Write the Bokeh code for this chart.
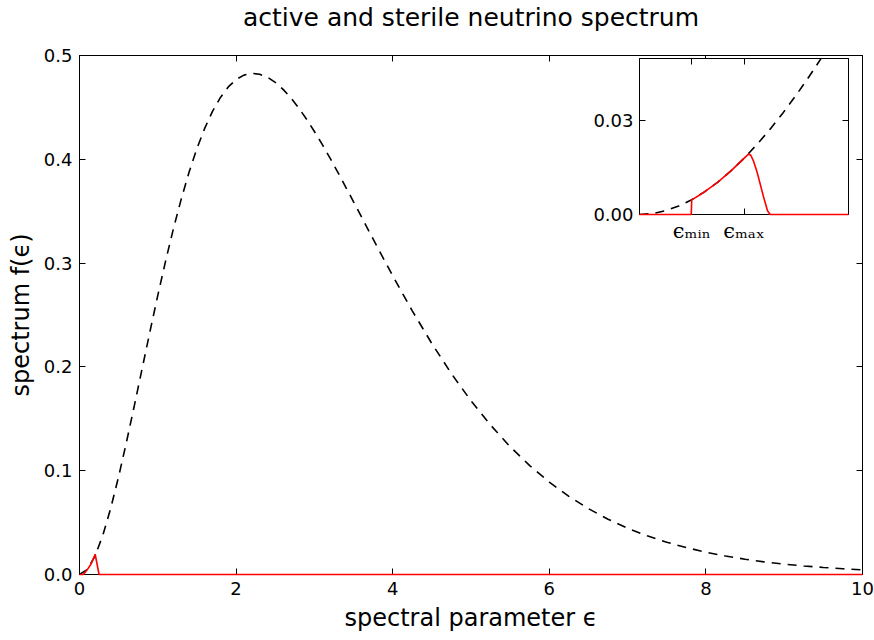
from bokeh.plotting import figure
from bokeh.models import (LinearAxis, FixedTicker, Range1d, PrintfTickFormatter,
                          CustomLabelingPolicy)
from bokeh.embed import file_html
from bokeh.resources import INLINE

# active (thermal) spectrum f(eps)
eps_active = [0.0, 0.1, 0.2, 0.3, 0.4, 0.5, 0.6, 0.7, 0.8, 0.9, 1.0, 1.1, 1.2, 1.3,
              1.4, 1.5, 1.6, 1.7, 1.8, 1.9, 2.0, 2.1, 2.2, 2.3, 2.4, 2.5, 2.6, 2.7,
              2.8, 2.9, 3.0, 3.1, 3.2, 3.3, 3.4, 3.5, 3.6, 3.7, 3.8, 3.9, 4.0,
              4.25, 4.5, 4.75, 5.0, 5.25, 5.5, 5.75, 6.0, 6.25, 6.5, 6.75, 7.0,
              7.25, 7.5, 7.75, 8.0, 8.25, 8.5, 8.75, 9.0, 9.25, 9.5, 9.75, 10.0]
f_active = [0.0, 0.0048, 0.0180, 0.0383, 0.0642, 0.0944, 0.1276, 0.1626, 0.1984,
            0.2341, 0.2689, 0.3022, 0.3333, 0.3619, 0.3877, 0.4105, 0.4300, 0.4464,
            0.4596, 0.4697, 0.4768, 0.4811, 0.4828, 0.4820, 0.4791, 0.4741, 0.4674,
            0.4591, 0.4494, 0.4386, 0.4268, 0.4143, 0.4011, 0.3874, 0.3733, 0.3591,
            0.3447, 0.3303, 0.3160, 0.3018, 0.2878,
            0.2540, 0.2225, 0.1935, 0.1673, 0.1439, 0.1231, 0.1049, 0.0890, 0.0753,
            0.0634, 0.0533, 0.0446, 0.0373, 0.0311, 0.0259, 0.0215, 0.0178, 0.0147,
            0.0121, 0.0100, 0.0082, 0.0068, 0.0055, 0.0045]

# sterile spectrum on the coarse grid of the main panel
eps_sterile = [0.0, 0.05, 0.1, 0.15, 0.2, 0.25, 0.3, 10.0]
f_sterile = [0.0, 0.0, 0.0047, 0.0104, 0.0195, 0.0, 0.0, 0.0]

# zoomed view of the low-energy window
eps_active_zoom = [0.0, 0.025, 0.05, 0.075, 0.1, 0.125, 0.15, 0.175, 0.2, 0.225,
                   0.25, 0.275, 0.3, 0.325, 0.35, 0.375, 0.4]
f_active_zoom = [0.0, 0.00031, 0.00122, 0.00271, 0.00475, 0.00733, 0.01041, 0.01398,
                 0.01801, 0.02248, 0.02736, 0.03265, 0.03830, 0.04431, 0.05064,
                 0.05728, 0.06421]
eps_sterile_zoom = [0.0, 0.099, 0.1, 0.125, 0.15, 0.175, 0.2, 0.205, 0.209, 0.213,
                    0.218, 0.225, 0.2375, 0.245, 0.25, 0.4]
f_sterile_zoom = [0.0, 0.0, 0.0047, 0.0073, 0.0104, 0.0140, 0.0180, 0.0188, 0.0194,
                  0.0190, 0.0172, 0.0136, 0.0056, 0.0012, 0.0, 0.0]

x_ticks = [0, 2, 4, 6, 8, 10]
y_ticks = [0.0, 0.1, 0.2, 0.3, 0.4, 0.5]
zoom_x_ticks = [0.1, 0.2]
zoom_x_labels = {0.1: "ϵₘᵢₙ", 0.2: "ϵₘₐₓ"}
zoom_y_ticks = [0.0, 0.03]

FONT = "DejaVu Sans"
DASH = "9 7"


def no_labels():
    # drop every tick label (tick marks only)
    return CustomLabelingPolicy(
        code="for (const i of Array.from(indices)) { indices.unset(i) }\nreturn indices")


def style_axis(ax, ticks, font_size, show_labels=True):
    ax.ticker = FixedTicker(ticks=ticks)
    ax.major_tick_in = 6
    ax.major_tick_out = 0
    ax.minor_tick_line_color = None
    ax.axis_line_color = "black"
    ax.major_tick_line_color = "black"
    ax.major_label_text_font = FONT
    ax.major_label_text_color = "black"
    ax.major_label_text_font_size = font_size
    ax.major_label_standoff = 7
    if not show_labels:
        ax.major_label_policy = no_labels()
        ax.major_label_text_font_size = "0px"
        ax.major_label_standoff = 0


p = figure(width=874, height=640, x_range=Range1d(0, 10), y_range=Range1d(0, 0.5),
           output_backend="svg", toolbar_location=None,
           min_border_left=79, min_border_right=12, min_border_top=54,
           min_border_bottom=66, title="active and sterile neutrino spectrum")
p.title.align = "center"
p.title.text_font = FONT
p.title.text_font_size = "25px"
p.title.text_font_style = "normal"
p.title.text_color = "black"
p.title.standoff = 0
p.xgrid.visible = False
p.ygrid.visible = False
p.outline_line_color = "black"
p.background_fill_color = "white"

style_axis(p.xaxis[0], x_ticks, "18px")
style_axis(p.yaxis[0], y_ticks, "18px")
p.yaxis[0].formatter = PrintfTickFormatter(format="%.1f")
for ax in (p.xaxis[0], p.yaxis[0]):
    ax.axis_label_text_font = FONT
    ax.axis_label_text_font_size = "24px"
    ax.axis_label_text_font_style = "normal"
    ax.axis_label_text_color = "black"
    ax.axis_label_standoff = 6
p.xaxis[0].axis_label = "spectral parameter ϵ"
p.yaxis[0].axis_label = "spectrum f(ϵ)"

top_ax = LinearAxis()
style_axis(top_ax, x_ticks, "0px", show_labels=False)
p.add_layout(top_ax, "above")

# empty band between the top spine and the title (invisible outward ticks)
gap_ax = LinearAxis(ticker=FixedTicker(ticks=x_ticks), major_tick_in=0,
                    major_tick_out=24, major_tick_line_color=None,
                    minor_tick_line_color=None, axis_line_color=None,
                    major_label_policy=no_labels(),
                    major_label_text_font_size="0px", major_label_standoff=0)
p.add_layout(gap_ax, "above")

right_ax = LinearAxis()
style_axis(right_ax, y_ticks, "0px", show_labels=False)
p.add_layout(right_ax, "right")

p.line(eps_active, f_active, line_color="black", line_width=1.6, line_dash=DASH)
p.line(eps_sterile, f_sterile, line_color="red", line_width=1.6, level="overlay")

# inset panel
inset = figure(frame_width=209, frame_height=156, x_range=Range1d(0, 0.4),
               y_range=Range1d(0, 0.05), output_backend="svg", toolbar_location=None,
               min_border_left=60, min_border_right=20, min_border_top=20,
               min_border_bottom=40)
inset.xgrid.visible = False
inset.ygrid.visible = False
inset.outline_line_color = "black"
inset.background_fill_color = "white"
inset.border_fill_alpha = 0
style_axis(inset.xaxis[0], zoom_x_ticks, "21px")
inset.xaxis[0].major_label_text_font = "DejaVu Serif"
inset.xaxis[0].major_label_overrides = zoom_x_labels
inset.xaxis[0].major_label_standoff = 4
style_axis(inset.yaxis[0], zoom_y_ticks, "18px")
inset.yaxis[0].formatter = PrintfTickFormatter(format="%.2f")
inset.yaxis[0].major_label_standoff = 6
in_top = LinearAxis()
style_axis(in_top, zoom_x_ticks, "0px", show_labels=False)
inset.add_layout(in_top, "above")
in_right = LinearAxis()
style_axis(in_right, zoom_y_ticks, "0px", show_labels=False)
inset.add_layout(in_right, "right")

inset.line(eps_active_zoom, f_active_zoom, line_color="black", line_width=1.6,
           line_dash=DASH)
inset.line(eps_sterile_zoom, f_sterile_zoom, line_color="red", line_width=1.6,
           level="overlay")

inset.styles = {"position": "absolute", "left": "579px", "top": "38px"}

open("out.html", "w").write(file_html([p, inset], INLINE))
